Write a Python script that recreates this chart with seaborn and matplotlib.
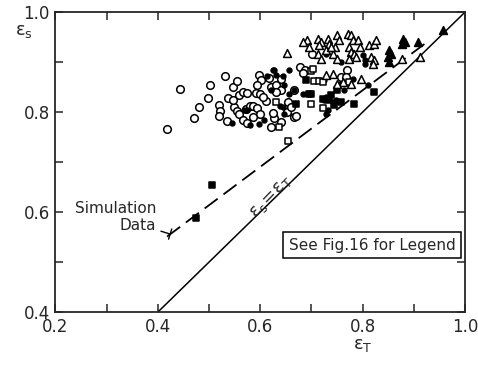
import numpy as np
import pandas as pd
import matplotlib
matplotlib.use("Agg")
import matplotlib.pyplot as plt
import seaborn as sns

# marker data (eps_T, eps_S)
open_circle_x = [0.418, 0.444, 0.470, 0.481, 0.498, 0.502, 0.519, 0.521, 0.519, 0.532, 0.536, 0.537,
                 0.547, 0.555, 0.548, 0.554, 0.559, 0.559, 0.566, 0.575, 0.567, 0.573, 0.580, 0.586,
                 0.593, 0.592, 0.600, 0.600, 0.598, 0.601, 0.594, 0.617, 0.621, 0.631, 0.640, 0.640,
                 0.621, 0.627, 0.624, 0.655, 0.652, 0.666, 0.666, 0.670, 0.677, 0.687, 0.684, 0.701,
                 0.770, 0.758, 0.768, 0.611, 0.605, 0.546, 0.585, 0.575, 0.640, 0.660, 0.630]
open_circle_y = [0.766, 0.847, 0.789, 0.811, 0.829, 0.854, 0.815, 0.802, 0.792, 0.872, 0.782, 0.829,
                 0.851, 0.863, 0.811, 0.803, 0.797, 0.835, 0.840, 0.838, 0.784, 0.806, 0.813, 0.812,
                 0.809, 0.838, 0.836, 0.797, 0.874, 0.864, 0.854, 0.869, 0.851, 0.854, 0.867, 0.844,
                 0.771, 0.788, 0.798, 0.820, 0.800, 0.845, 0.791, 0.792, 0.891, 0.884, 0.878, 0.917,
                 0.884, 0.871, 0.871, 0.822, 0.830, 0.824, 0.790, 0.778, 0.780, 0.810, 0.840]

filled_circle_x = [0.545, 0.580, 0.598, 0.574, 0.639, 0.647, 0.644, 0.626, 0.630, 0.614, 0.624, 0.644,
                   0.656, 0.647, 0.621, 0.656, 0.666, 0.607, 0.568, 0.683, 0.725, 0.728, 0.725, 0.732,
                   0.755, 0.764, 0.781, 0.810, 0.804, 0.715, 0.728, 0.742, 0.748, 0.800, 0.804, 0.728,
                   0.758]
filled_circle_y = [0.779, 0.774, 0.777, 0.804, 0.813, 0.797, 0.811, 0.884, 0.874, 0.872, 0.885, 0.873,
                   0.884, 0.854, 0.845, 0.837, 0.844, 0.784, 0.804, 0.836, 0.864, 0.797, 0.824, 0.804,
                   0.857, 0.844, 0.867, 0.854, 0.904, 0.864, 0.831, 0.821, 0.824, 0.914, 0.897, 0.917,
                   0.901]

open_square_x = [0.655, 0.699, 0.705, 0.715, 0.630, 0.699, 0.722, 0.637, 0.702, 0.774, 0.722]
open_square_y = [0.743, 0.883, 0.862, 0.862, 0.821, 0.816, 0.809, 0.771, 0.887, 0.861, 0.861]

filled_square_x = [0.474, 0.506, 0.670, 0.689, 0.696, 0.784, 0.823, 0.722, 0.735, 0.699, 0.738,
                   0.750, 0.744, 0.758]
filled_square_y = [0.589, 0.654, 0.816, 0.865, 0.837, 0.817, 0.841, 0.827, 0.824, 0.837, 0.834,
                   0.844, 0.814, 0.820]

open_tri_x = [0.692, 0.683, 0.695, 0.712, 0.718, 0.715, 0.712, 0.718, 0.732, 0.735, 0.728, 0.749,
              0.753, 0.746, 0.743, 0.749, 0.771, 0.777, 0.781, 0.774, 0.777, 0.784, 0.774, 0.791,
              0.794, 0.787, 0.813, 0.823, 0.826, 0.817, 0.823, 0.820, 0.876, 0.911, 0.728, 0.742,
              0.761, 0.797, 0.777, 0.750, 0.653, 0.738]
open_tri_y = [0.944, 0.941, 0.931, 0.947, 0.941, 0.934, 0.917, 0.907, 0.947, 0.937, 0.924, 0.954,
              0.944, 0.931, 0.917, 0.907, 0.957, 0.954, 0.944, 0.931, 0.921, 0.917, 0.907, 0.944,
              0.931, 0.911, 0.934, 0.937, 0.944, 0.911, 0.904, 0.897, 0.907, 0.911, 0.874, 0.877,
              0.861, 0.867, 0.857, 0.857, 0.919, 0.931]

filled_tri_x = [0.957, 0.878, 0.882, 0.876, 0.908, 0.852, 0.855, 0.849, 0.852]
filled_tri_y = [0.964, 0.947, 0.941, 0.936, 0.941, 0.924, 0.917, 0.911, 0.901]

# dashed simulation line end points
sim_x = [0.418, 0.931]
sim_y = [0.551, 0.944]

groups = [
    ("o", "white", 30, open_circle_x, open_circle_y),
    ("o", "black", 12, filled_circle_x, filled_circle_y),
    ("s", "white", 24, open_square_x, open_square_y),
    ("s", "black", 24, filled_square_x, filled_square_y),
    ("^", "white", 32, open_tri_x, open_tri_y),
    ("^", "black", 32, filled_tri_x, filled_tri_y),
]

sns.set_style("ticks")
plt.rcParams["font.family"] = ["DejaVu Sans"]
plt.rcParams["mathtext.fontset"] = "dejavusans"

fig = plt.figure(figsize=(4.78, 3.65), dpi=100)
ax = fig.add_axes([0.116, 0.145, 0.857, 0.822])

for mk, fc, sz, xs, ys in groups:
    df = pd.DataFrame({"x": xs, "y": ys})
    sns.scatterplot(data=df, x="x", y="y", marker=mk, s=sz, facecolor=fc,
                    edgecolor="black", linewidth=1.1, ax=ax, zorder=3)

# eps_s = eps_T
ax.plot([0.4, 1.0], [0.4, 1.0], color="black", lw=1.1)
# simulation data
ax.plot(sim_x, sim_y, color="black", lw=1.3, dashes=(9, 4))

ax.set_xlim(0.2, 1.0)
ax.set_ylim(0.4, 1.0)
ticks = np.round(np.arange(0.2, 1.01, 0.1), 1)
ax.set_xticks(ticks)
ax.set_yticks(ticks[2:])
ax.set_xticklabels([f"{t:.1f}" if i % 2 == 0 else "" for i, t in enumerate(ticks)], fontsize=12)
ax.set_yticklabels([f"{t:.1f}" if i % 2 == 0 else "" for i, t in enumerate(ticks[2:])], fontsize=12)
ax.tick_params(direction="in", length=6, width=1.1, top=True, right=True, pad=4)
for sp in ax.spines.values():
    sp.set_linewidth(1.3)
ax.set_xlabel("")
ax.set_ylabel("")

ax.text(0.8, 0.335, r"$\mathregular{\varepsilon_T}$", fontsize=13, ha="center", va="center")
ax.text(0.138, 0.962, r"$\mathregular{\varepsilon_s}$", fontsize=13, ha="center", va="center",
        clip_on=False)

ax.text(0.620, 0.630, r"$\mathregular{\varepsilon_s\!=\!\varepsilon_T}$", fontsize=13,
        rotation=46, ha="center", va="center")

ax.annotate("Simulation\nData", xy=(0.424, 0.556), xytext=(0.397, 0.590),
            ha="right", va="center", fontsize=11, linespacing=1.2,
            arrowprops=dict(arrowstyle="-[, widthB=0.35, lengthB=0", color="black", lw=1.0,
                            shrinkA=1, shrinkB=0))

ax.text(0.818, 0.534, "See Fig.16 for Legend", fontsize=11, ha="center", va="center",
        bbox=dict(boxstyle="square,pad=0.35", facecolor="white", edgecolor="black", lw=1.1))

fig.savefig("out.png", dpi=100)
